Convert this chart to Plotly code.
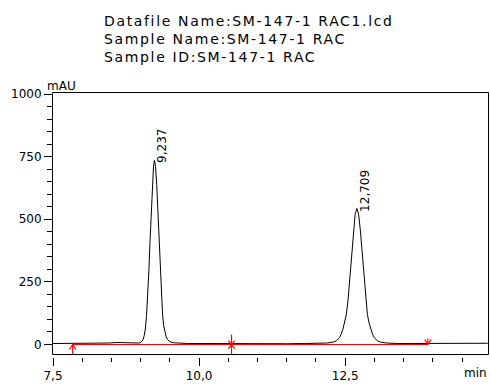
import plotly.graph_objects as go

# ---------------- data ----------------
time_min = [7.50, 7.70, 7.90, 8.05, 8.20, 8.28, 8.38, 8.48, 8.58, 8.70, 8.80, 8.90, 8.96,
            9.00, 9.04, 9.06, 9.08, 9.10, 9.12, 9.14, 9.16, 9.18, 9.20, 9.22, 9.237,
            9.255, 9.275, 9.295, 9.315, 9.335, 9.355, 9.375, 9.395, 9.415, 9.435, 9.46,
            9.50, 9.56, 9.65, 9.80, 10.0, 10.5, 11.0, 11.5, 11.8, 12.0, 12.1, 12.2,
            12.30, 12.35, 12.40, 12.43, 12.46, 12.49, 12.52, 12.55, 12.58, 12.61, 12.64,
            12.67, 12.70, 12.73, 12.76, 12.79, 12.82, 12.85, 12.88, 12.91, 12.94, 12.97,
            13.00, 13.05, 13.10, 13.20, 13.40, 13.60, 13.90, 14.20, 14.50, 14.94]
signal_mau = [4, 4, 3, 4, 5, 6, 5, 6, 8, 7, 6, 6, 6,
              8, 18, 35, 62, 115, 195, 290, 410, 535, 640, 712, 735,
              710, 638, 530, 405, 285, 190, 118, 75, 50, 32, 20,
              11, 7, 5, 4, 4, 3, 3, 3, 4, 5, 5, 6,
              10, 15, 27, 40, 60, 85, 120, 180, 268, 365, 455,
              520, 543, 520, 455, 365, 268, 180, 120, 85, 60, 40,
              27, 15, 10, 6, 4, 4, 4, 5, 5, 5]

peak_times = [9.237, 12.709]
peak_heights = [735, 543]
peak_labels = ["9,237", "12,709"]

# integration events: start, split, end
event_times = [7.837, 10.555, 13.915]
baseline_level = 0

x_tickvals = [7.5, 10.0, 12.5]
x_ticktext = ["7,5", "10,0", "12,5"]
y_tickvals = [0, 250, 500, 750, 1000]
y_ticktext = ["0", "250", "500", "750", "1000"]

title_lines = ["Datafile Name:SM-147-1 RAC1.lcd",
               "Sample Name:SM-147-1 RAC",
               "Sample ID:SM-147-1 RAC"]

# ---------------- layout geometry ----------------
W, H = 490, 385
ML, MR, MT, MB = 53, 2, 93, 25
PW, PH = W - ML - MR, H - MT - MB
X_RANGE = [7.5, 14.944]
Y_RANGE = [-38, 1004]
FONT = "DejaVu Sans"


def px_x(px):
    return (px - ML) / PW


def px_y(py):
    return (H - MB - py) / PH


fig = go.Figure()

fig.add_trace(go.Scatter(x=time_min, y=signal_mau, mode="lines",
                         line=dict(color="black", width=1), hoverinfo="skip",
                         showlegend=False))

# red baseline
fig.add_trace(go.Scatter(x=[event_times[0], event_times[-1]],
                         y=[baseline_level, baseline_level], mode="lines",
                         line=dict(color="#ff0000", width=1), showlegend=False))

# event markers (arrow up, cross, arrow down)
dx, dy = 0.055, 20
mx, my = [], []
t0, t1, t2 = event_times
mx += [t0, t0, None, t0 - dx, t0, t0 + dx, None]
my += [-40, baseline_level, None, baseline_level - dy, baseline_level, baseline_level - dy, None]
mx += [t1, t1, None, t1 - dx, t1 + dx, None, t1 - dx, t1 + dx, None]
my += [40, -42, None, -16, 16, None, 16, -16, None]
mx += [t2, t2, None, t2 - dx, t2, t2 + dx]
my += [24, baseline_level, None, baseline_level + dy, baseline_level, baseline_level + dy]
fig.add_trace(go.Scatter(x=mx, y=my, mode="lines",
                         line=dict(color="#ff0000", width=1.2), showlegend=False))

annotations = []
for t, h, lab in zip(peak_times, peak_heights, peak_labels):
    annotations.append(dict(x=t, y=h, xref="x", yref="y", text=lab, textangle=-90,
                            showarrow=False, xanchor="center", yanchor="bottom",
                            xshift=8, yshift=-5,
                            font=dict(family=FONT, size=12, color="black")))

title_html = "<br>".join(
    '<span style="letter-spacing:1.65px">%s</span>' % line for line in title_lines)
annotations.append(dict(x=px_x(103), y=px_y(11), xref="paper", yref="paper",
                        text=title_html, showarrow=False, xanchor="left", yanchor="top",
                        align="left", borderpad=0,
                        font=dict(family=FONT, size=14, color="black")))

annotations.append(dict(x=px_x(45), y=px_y(86), xref="paper", yref="paper", text="mAU",
                        showarrow=False, xanchor="left", yanchor="middle",
                        font=dict(family=FONT, size=12, color="black")))
annotations.append(dict(x=px_x(489), y=px_y(376), xref="paper", yref="paper", text="min",
                        showarrow=False, xanchor="right", yanchor="middle",
                        font=dict(family=FONT, size=12, color="black")))

box_bottom_frac = 3 / PH
plot_h = PH * (1 - box_bottom_frac)

fig.update_layout(
    width=W, height=H,
    margin=dict(l=ML, r=MR, t=MT, b=MB, pad=0),
    paper_bgcolor="white", plot_bgcolor="white",
    font=dict(family=FONT, size=12, color="black"),
    showlegend=False,
    annotations=annotations,
    xaxis=dict(range=X_RANGE, anchor="free", position=0,
               tickvals=x_tickvals, ticktext=x_ticktext,
               ticks="outside", ticklen=8, tickwidth=1, tickcolor="black",
               minor=dict(dtick=0.5, tick0=7.5, ticks="outside", ticklen=4,
                          tickwidth=1, tickcolor="black", showgrid=False),
               showgrid=False, zeroline=False, showline=False,
               tickfont=dict(family=FONT, size=12, color="black")),
    yaxis=dict(range=Y_RANGE, domain=[box_bottom_frac, 1],
               tickvals=y_tickvals, ticktext=y_ticktext,
               ticks="outside", ticklen=8, tickwidth=1, tickcolor="black",
               minor=dict(dtick=50, tick0=0, ticks="outside", ticklen=5,
                          tickwidth=1, tickcolor="black", showgrid=False),
               showgrid=False, zeroline=False, showline=False,
               tickfont=dict(family=FONT, size=12, color="black")),
    shapes=[dict(type="rect", xref="x domain", yref="y domain",
                 x0=-0.5 / PW, x1=1 + 0.5 / PW, y0=-0.5 / plot_h, y1=1 + 0.5 / plot_h,
                 line=dict(color="black", width=1), fillcolor="rgba(0,0,0,0)", layer="above")],
)

fig.write_html("out.html")
